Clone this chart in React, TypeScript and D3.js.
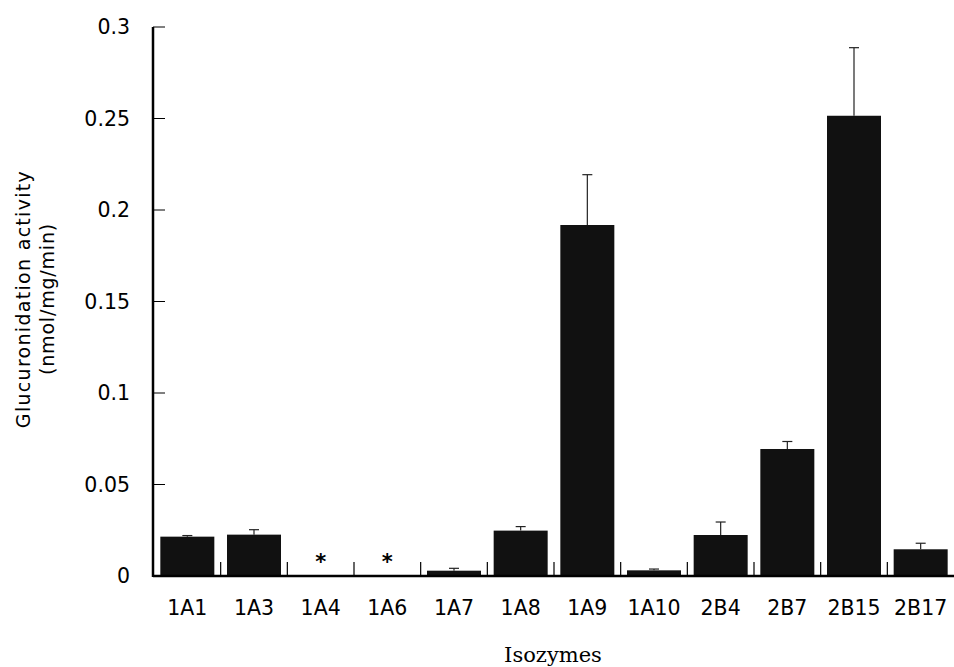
import React from 'react';
import * as d3 from 'd3';

// Glucuronidation activity by UGT isozyme (mean + SD, upward error only)
const isozymes = ['1A1', '1A3', '1A4', '1A6', '1A7', '1A8', '1A9', '1A10', '2B4', '2B7', '2B15', '2B17'];
const activity = [0.0215, 0.0226, 0, 0, 0.0029, 0.0248, 0.1918, 0.0031, 0.0224, 0.0694, 0.2515, 0.0146];
const errors = [0.0006, 0.0027, 0, 0, 0.0013, 0.0022, 0.0275, 0.0007, 0.0071, 0.0041, 0.0372, 0.0033];
// isozymes with no detectable activity
const notDetected = ['1A4', '1A6'];
const yTicks = [0, 0.05, 0.1, 0.15, 0.2, 0.25, 0.3];

const W = 954;
const H = 667;
const x0 = 153;
const x1 = 954;
const yTop = 27;
const yBase = 576;

const sans = '"DejaVu Sans", sans-serif';

export default function App() {
  const x = d3.scaleBand().domain(isozymes).range([x0 + 1, x1]).paddingInner(0.19).paddingOuter(0.095);
  const y = d3.scaleLinear().domain([0, 0.3]).range([yBase, yTop]);
  const step = x.step();
  // boundaries between categories, where the small upward ticks sit
  const bounds = isozymes.slice(1).map((d) => (x(d) as number) - (step - x.bandwidth()) / 2);

  return (
    <svg width={W} height={H} style={{ position: 'absolute', left: 0, top: 0 }}>
      <rect width={W} height={H} fill="#fff" />

      {/* bars */}
      {isozymes.map((d, i) => (
        <rect key={d} x={x(d)} y={y(activity[i])} width={x.bandwidth()}
          height={yBase - y(activity[i])} fill="#111" />
      ))}

      {/* error bars */}
      {isozymes.map((d, i) => {
        if (errors[i] <= 0) return null;
        const cx = (x(d) as number) + x.bandwidth() / 2;
        const top = y(activity[i] + errors[i]);
        return (
          <g key={d} stroke="#222" strokeWidth={1.2}>
            <line x1={cx} x2={cx} y1={y(activity[i])} y2={top} />
            <line x1={cx - 5} x2={cx + 5} y1={top} y2={top} />
          </g>
        );
      })}

      {notDetected.map((d) => (
        <text key={d} x={(x(d) as number) + x.bandwidth() / 2} y={569} textAnchor="middle"
          fontFamily={sans} fontSize={21} fontWeight="bold" fill="#000">*</text>
      ))}

      {/* y axis */}
      <line x1={x0} x2={x0} y1={yTop} y2={yBase + 1} stroke="#000" strokeWidth={2.5} />
      {yTicks.map((t) => (
        <g key={t}>
          <line x1={x0} x2={x0 + 12} y1={y(t)} y2={y(t)} stroke="#000" strokeWidth={1} />
          <text x={130} y={y(t)} dy="0.36em" textAnchor="end" fontFamily={sans} fontSize={20.5} fill="#000">
            {t}
          </text>
        </g>
      ))}

      {/* x axis */}
      <line x1={x0} x2={x1} y1={yBase} y2={yBase} stroke="#000" strokeWidth={2.5} />
      {bounds.map((b, i) => (
        <line key={i} x1={b} x2={b} y1={yBase} y2={yBase - 14} stroke="#000" strokeWidth={1.2} />
      ))}
      {isozymes.map((d) => (
        <text key={d} x={(x(d) as number) + x.bandwidth() / 2} y={608} dy="0.36em" textAnchor="middle"
          fontFamily={sans} fontSize={20.5} fill="#000">
          {d}
        </text>
      ))}

      <text x={553} y={662} textAnchor="middle" fontFamily='"DejaVu Serif", serif' fontSize={21} fill="#000">
        Isozymes
      </text>

      <g transform="translate(30,299) rotate(-90)">
        <text x={0} y={0} textAnchor="middle" fontFamily={sans} fontSize={19} letterSpacing={1.3} fill="#000">
          Glucuronidation activity
        </text>
        <text x={0} y={24} textAnchor="middle" fontFamily={sans} fontSize={19} letterSpacing={0.8} fill="#000">
          (nmol/mg/min)
        </text>
      </g>
    </svg>
  );
}
